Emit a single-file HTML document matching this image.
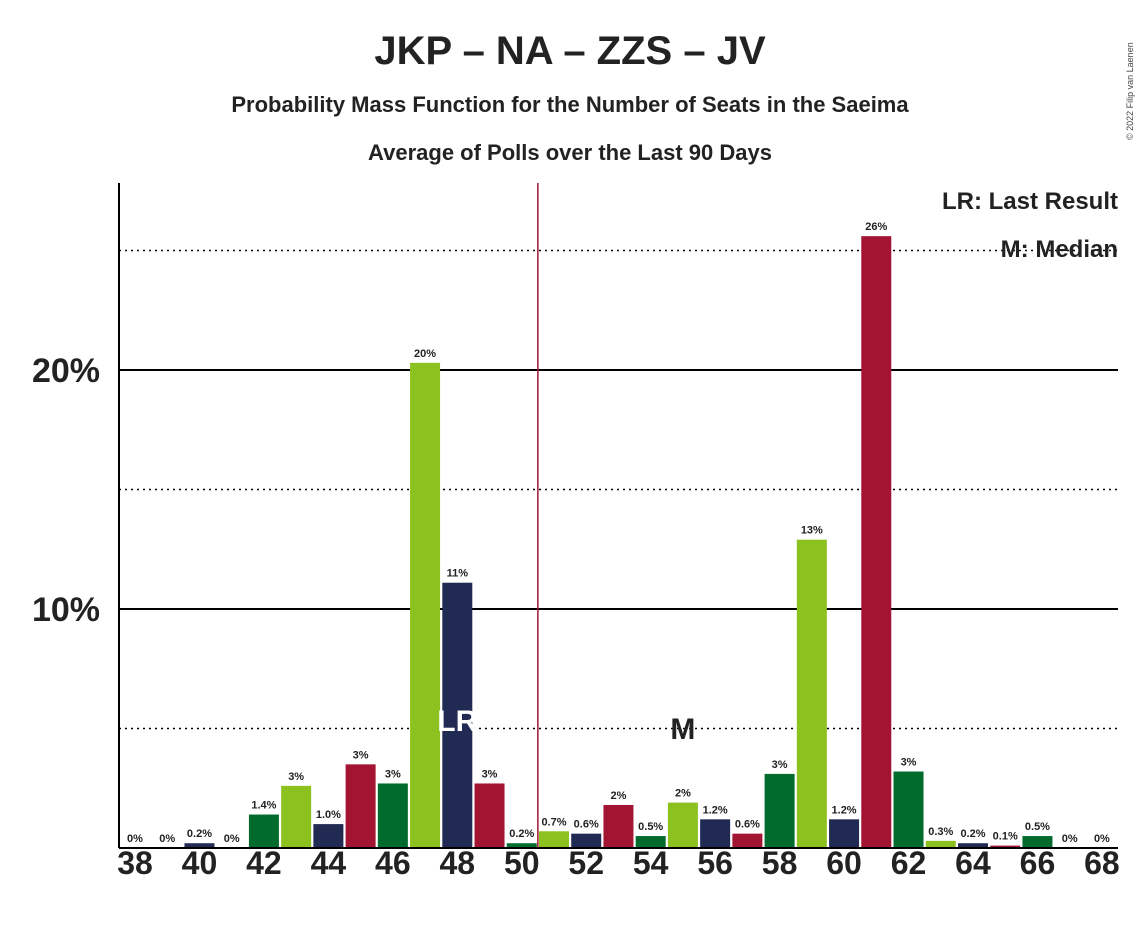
<!DOCTYPE html>
<html><head><meta charset="utf-8">
<style>
body{margin:0;background:#fff;}
svg text{font-family:"Liberation Sans",sans-serif;}
</style></head>
<body>
<svg id="chart" width="1139" height="924" xmlns="http://www.w3.org/2000/svg">
<text x="570" y="64" text-anchor="middle" font-size="40" font-weight="bold" fill="#222">JKP – NA – ZZS – JV</text>
<text x="570" y="112" text-anchor="middle" font-size="22" font-weight="bold" fill="#222">Probability Mass Function for the Number of Seats in the Saeima</text>
<text x="570" y="160" text-anchor="middle" font-size="22" font-weight="bold" fill="#222">Average of Polls over the Last 90 Days</text>
<text x="1133" y="140" font-size="9" fill="#444" transform="rotate(-90 1133 140)">© 2022 Filip van Laenen</text>
<g id="grid"></g>
<g id="bars"></g>
<g id="labels"></g>
<text x="1118" y="209" text-anchor="end" font-size="24" font-weight="bold" fill="#222">LR: Last Result</text>
<text x="1118" y="257" text-anchor="end" font-size="24" font-weight="bold" fill="#222">M: Median</text>
</svg>
<script>
const seats=[38,39,40,41,42,43,44,45,46,47,48,49,50,51,52,53,54,55,56,57,58,59,60,61,62,63,64,65,66,67,68];
const values=[0,0,0.2,0,1.4,2.6,1.0,3.5,2.7,20.3,11.1,2.7,0.2,0.7,0.6,1.8,0.5,1.9,1.2,0.6,3.1,12.9,1.2,25.6,3.2,0.3,0.2,0.1,0.5,0,0];
const valueLabels=["0%","0%","0.2%","0%","1.4%","3%","1.0%","3%","3%","20%","11%","3%","0.2%","0.7%","0.6%","2%","0.5%","2%","1.2%","0.6%","3%","13%","1.2%","26%","3%","0.3%","0.2%","0.1%","0.5%","0%","0%"];
const yTicks=[10,20];
const yDotted=[5,15,25];
const lastResult=48, median=55, majority=50.5;
const colors=["#006b2d","#8cc21f","#202a52","#a31432"];
const NS="http://www.w3.org/2000/svg";
const x=s=>135+(s-38)*32.23;
const y=v=>848-v*23.9;
function mk(tag,attrs,parent,txt){const e=document.createElementNS(NS,tag);for(const k in attrs)e.setAttribute(k,attrs[k]);if(txt!==undefined)e.textContent=txt;document.getElementById(parent).appendChild(e);return e;}
yDotted.forEach(v=>{const l=mk('line',{x1:119,x2:1118,y1:y(v),y2:y(v),stroke:'#000','stroke-width':1.5,'stroke-dasharray':'2,4'},'grid');

});
yTicks.forEach(v=>{const l=mk('line',{x1:119,x2:1118,y1:y(v),y2:y(v),stroke:'#000','stroke-width':2},'grid');


const t=mk('text',{x:100,y:y(v)+12,'text-anchor':'end','font-size':34,'font-weight':'bold',fill:'#222'},'grid',v+'%');

});
seats.forEach((s,i)=>{
 const v=values[i];
 const r=mk('rect',{x:x(s)-15,y:y(v),width:30,height:848-y(v),fill:colors[(s-38)%4]},'bars');
 
 
 const t=mk('text',{x:x(s),y:y(v)-6,'text-anchor':'middle','font-size':11,'font-weight':'bold',fill:'#222'},'labels',valueLabels[i]);
 
 
 if(s%2===0){const xt=mk('text',{x:x(s),y:874,'text-anchor':'middle','font-size':32,'font-weight':'bold',fill:'#222'},'labels',String(s));
 
 }
});
const ml=mk('line',{x1:x(majority),x2:x(majority),y1:183,y2:848,stroke:'#a31432','stroke-width':1.5},'labels');


const ax=mk('line',{x1:119,x2:119,y1:183,y2:848,stroke:'#000','stroke-width':2},'labels');


const bx=mk('line',{x1:119,x2:1118,y1:848,y2:848,stroke:'#000','stroke-width':2},'labels');


const lr=mk('text',{x:x(lastResult),y:731,'text-anchor':'middle','font-size':30,'font-weight':'bold',fill:'#fff'},'labels','LR');


const md=mk('text',{x:x(median),y:739,'text-anchor':'middle','font-size':30,'font-weight':'bold',fill:'#222'},'labels','M');


</script>
</body></html>
